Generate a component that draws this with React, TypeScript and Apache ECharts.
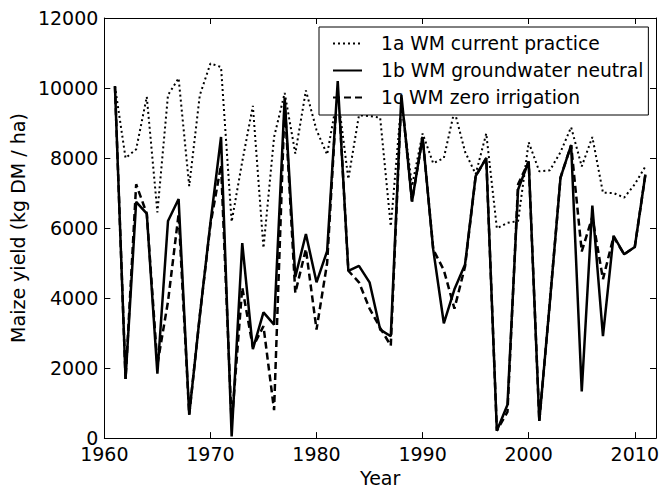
import React, { useEffect, useRef } from "react";
import * as echarts from "echarts";

const years = [
  1961, 1962, 1963, 1964, 1965, 1966, 1967, 1968, 1969, 1970,
  1971, 1972, 1973, 1974, 1975, 1976, 1977, 1978, 1979, 1980,
  1981, 1982, 1983, 1984, 1985, 1986, 1987, 1988, 1989, 1990,
  1991, 1992, 1993, 1994, 1995, 1996, 1997, 1998, 1999, 2000,
  2001, 2002, 2003, 2004, 2005, 2006, 2007, 2008, 2009, 2010, 2011,
];

const currentPractice = [
  10050, 8000, 8250, 9750, 6450, 9800, 10280, 7200, 9800, 10700,
  10600, 6180, 7900, 9490, 5430, 8600, 9860, 8130, 9930, 8800,
  8100, 9800, 7400, 9220, 9200, 9150, 6050, 9600, 7200, 8700,
  7850, 8000, 9350, 8180, 7540, 8700, 5990, 6150, 6200, 8450,
  7620, 7650, 8170, 8880, 7760, 8600, 7010, 7000, 6870, 7250, 7760,
];

const groundwaterNeutral = [
  10050, 1690, 6750, 6410, 1840, 6200, 6830, 670, 3500, 6150,
  8600, 50, 5570, 2540, 3590, 3240, 9720, 4600, 5830, 4450,
  5340, 10200, 4780, 4920, 4450, 3100, 2910, 9800, 6760, 8600,
  5390, 3280, 4250, 4960, 7480, 8000, 210, 950, 7100, 7900,
  490, 3900, 7440, 8370, 1330, 6640, 2910, 5780, 5250, 5460, 7530,
];

const zeroIrrigation = [
  10050, 1690, 7250, 6410, 2100, 3900, 6400, 670, 3500, 6100,
  7800, 400, 4300, 2600, 3200, 800, 9600, 4150, 5400, 3100,
  5000, 10200, 4780, 4450, 3700, 3150, 2640, 9800, 6760, 8600,
  5390, 4800, 3700, 4900, 7480, 8000, 210, 750, 7250, 7900,
  490, 3900, 7440, 8370, 5330, 6320, 4540, 5750, 5250, 5460, 7530,
];

const seriesNames = [
  "1a WM current practice",
  "1b WM groundwater neutral",
  "1c WM zero irrigation",
];

const xTicks = [1960, 1970, 1980, 1990, 2000, 2010];
const yTicks = [0, 2000, 4000, 6000, 8000, 10000, 12000];

const FONT = "DejaVu Sans";

export default function App() {
  const ref = useRef<HTMLDivElement>(null);

  useEffect(() => {
    document.body.style.margin = "0";
    if (!ref.current) return;
    const chart = echarts.init(ref.current, undefined, { renderer: "svg" });

    const pair = (vals: number[]) => years.map((y, i) => [y, vals[i]]);

    const tickCommon = {
      show: true,
      inside: true,
      length: 6,
      lineStyle: { color: "#000", width: 1 },
    };
    const lineCommon = { show: true, onZero: false, lineStyle: { color: "#000", width: 1 } };

    chart.setOption({
      animation: false,
      backgroundColor: "#fff",
      textStyle: { fontFamily: FONT, color: "#000" },
      grid: { left: 100, right: 15, top: 18, bottom: 45, containLabel: false },
      legend: {
        orient: "vertical",
        left: 319,
        top: 27,
        padding: [6, 5, 7, 13],
        itemGap: 6,
        itemWidth: 29,
        itemHeight: 14,
        backgroundColor: "#fff",
        borderColor: "#000",
        borderWidth: 1,
        borderRadius: 0,
        itemStyle: { opacity: 0 },
        textStyle: {
          fontFamily: FONT,
          fontSize: 18.7,
          color: "#000",
          lineHeight: 21,
          padding: [0, 0, 0, 14],
        },
        data: seriesNames,
      },
      xAxis: [
        {
          type: "value",
          min: 1960,
          max: 2012,
          interval: 10,
          name: "Year",
          nameLocation: "middle",
          nameGap: 19,
          nameTextStyle: { fontFamily: FONT, fontSize: 19, color: "#000" },
          axisLine: lineCommon,
          axisTick: tickCommon,
          splitLine: { show: false },
          axisLabel: {
            fontFamily: FONT,
            fontSize: 19,
            color: "#000",
            margin: 6,
            formatter: (v: number) => (xTicks.includes(v) ? String(v) : ""),
          },
        },
        {
          type: "value",
          position: "top",
          min: 1960,
          max: 2012,
          interval: 10,
          axisLine: lineCommon,
          axisTick: tickCommon,
          splitLine: { show: false },
          axisLabel: { show: false },
        },
      ],
      yAxis: [
        {
          type: "value",
          min: 0,
          max: 12000,
          interval: 2000,
          name: "Maize yield (kg DM / ha)",
          nameLocation: "middle",
          nameGap: 66,
          nameTextStyle: { fontFamily: FONT, fontSize: 19, color: "#000" },
          axisLine: lineCommon,
          axisTick: tickCommon,
          splitLine: { show: false },
          axisLabel: {
            fontFamily: FONT,
            fontSize: 19,
            color: "#000",
            margin: 6,
            formatter: (v: number) => (yTicks.includes(v) ? String(v) : ""),
          },
        },
        {
          type: "value",
          position: "right",
          min: 0,
          max: 12000,
          interval: 2000,
          axisLine: lineCommon,
          axisTick: tickCommon,
          splitLine: { show: false },
          axisLabel: { show: false },
        },
      ],
      series: [
        {
          name: seriesNames[0],
          type: "line",
          data: pair(currentPractice),
          symbol: "none",
          lineStyle: { color: "#000", width: 2, type: [2, 3] },
          itemStyle: { color: "#000" },
          z: 2,
        },
        {
          name: seriesNames[1],
          type: "line",
          data: pair(groundwaterNeutral),
          symbol: "none",
          lineStyle: { color: "#000", width: 2.5, type: "solid" },
          itemStyle: { color: "#000" },
          z: 4,
        },
        {
          name: seriesNames[2],
          type: "line",
          data: pair(zeroIrrigation),
          symbol: "none",
          lineStyle: { color: "#000", width: 2.5, type: [7, 4] },
          itemStyle: { color: "#000" },
          z: 3,
        },
      ],
    });

    return () => chart.dispose();
  }, []);

  return <div ref={ref} style={{ width: 671, height: 492 }} />;
}
